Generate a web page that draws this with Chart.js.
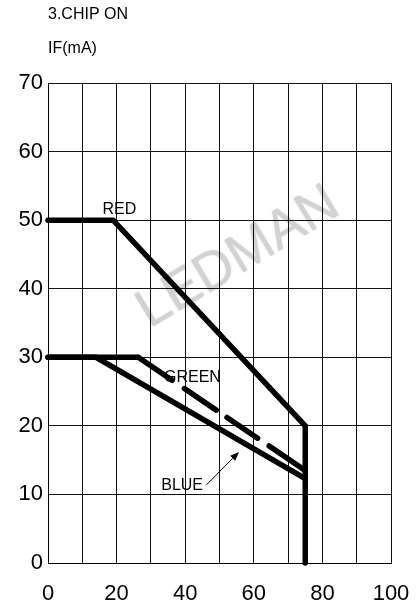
<!DOCTYPE html>
<html>
<head>
<meta charset="utf-8">
<script src="https://cdn.jsdelivr.net/npm/chart.js@4/dist/chart.umd.min.js"></script>
<style>
  html, body { margin: 0; padding: 0; background: #fff; }
  #wrap { width: 417px; height: 610px; }
</style>
</head>
<body>
<div id="wrap"><canvas id="c" width="417" height="610"></canvas></div>
<script>
// ---- data ----
const headerLine1 = "3.CHIP ON";
const headerLine2 = "IF(mA)";
const xTickLabels = [0, 20, 40, 60, 80, 100];
const yTickLabels = [0, 10, 20, 30, 40, 50, 60, 70];

const redX = [0, 19, 75, 75];
const redY = [50, 50, 20, 0];
const greenX = [0, 26.3, 75];
const greenY = [30, 30, 13.5];
const blueX = [0, 14, 75];
const blueY = [30, 30, 12.3];

// curve labels (data coordinates of label centres)
const labelNames = ["RED", "GREEN", "BLUE"];
const labelX = [20.8, 42.1, 39.1];
const labelY = [51.6, 27.0, 11.3];
// arrow from BLUE label to the blue curve
const arrowFrom = [46.2, 11.4];
const arrowTo = [55.7, 16.2];
const watermarkText = "LEDMAN";
const watermarkPos = [55.5, 44.5];

const FONT = '"Liberation Sans", Arial, Helvetica, sans-serif';

function pts(xs, ys) { return xs.map((x, i) => ({ x: x, y: ys[i] })); }

const overlay = {
  id: 'overlay',
  beforeDraw(chart) {
    const ctx = chart.ctx, xs = chart.scales.x, ys = chart.scales.y;
    ctx.save();
    ctx.translate(xs.getPixelForValue(watermarkPos[0]), ys.getPixelForValue(watermarkPos[1]));
    ctx.rotate(-31 * Math.PI / 180);
    ctx.font = '54px ' + FONT;
    ctx.fillStyle = '#d2d2d2';
    ctx.shadowColor = 'rgba(200,200,200,0.8)';
    ctx.shadowBlur = 2;
    ctx.textAlign = 'center';
    ctx.textBaseline = 'middle';
    ctx.fillText(watermarkText, 0, 0);
    ctx.restore();
  },
  beforeDatasetsDraw(chart) {
    const ctx = chart.ctx, xs = chart.scales.x, ys = chart.scales.y;
    ctx.save();
    ctx.font = '16px ' + FONT;
    ctx.fillStyle = '#000';
    ctx.textAlign = 'center';
    ctx.textBaseline = 'middle';
    labelNames.forEach((t, i) => {
      ctx.fillText(t, xs.getPixelForValue(labelX[i]), ys.getPixelForValue(labelY[i]));
    });
    // arrow
    const x0 = xs.getPixelForValue(arrowFrom[0]), y0 = ys.getPixelForValue(arrowFrom[1]);
    const x1 = xs.getPixelForValue(arrowTo[0]), y1 = ys.getPixelForValue(arrowTo[1]);
    const ang = Math.atan2(y1 - y0, x1 - x0);
    const hl = 9, hw = 3.5;
    ctx.strokeStyle = '#000';
    ctx.lineWidth = 1;
    ctx.beginPath();
    ctx.moveTo(x0, y0);
    ctx.lineTo(x1 - Math.cos(ang) * hl, y1 - Math.sin(ang) * hl);
    ctx.stroke();
    ctx.beginPath();
    ctx.moveTo(x1, y1);
    ctx.lineTo(x1 - Math.cos(ang) * hl - Math.sin(ang) * hw, y1 - Math.sin(ang) * hl + Math.cos(ang) * hw);
    ctx.lineTo(x1 - Math.cos(ang) * hl + Math.sin(ang) * hw, y1 - Math.sin(ang) * hl - Math.cos(ang) * hw);
    ctx.closePath();
    ctx.fill();
    // header
    ctx.textAlign = 'left';
    ctx.fillText(headerLine1, chart.chartArea.left, 14.5);
    ctx.fillText(headerLine2, chart.chartArea.left, 49);
    ctx.restore();
  }
};

const lineStyle = {
  borderColor: '#000',
  backgroundColor: '#000',
  borderWidth: 5.5,
  pointRadius: 0,
  pointHoverRadius: 0,
  fill: false,
  tension: 0,
  borderCapStyle: 'round',
  borderJoinStyle: 'miter',
  clip: false
};

const greenDash = [41, 14.8, 38.4, 13.1, 36.9, 14, 120];

new Chart(document.getElementById('c'), {
  type: 'line',
  data: {
    datasets: [
      Object.assign({ label: 'RED', data: pts(redX, redY) }, lineStyle),
      Object.assign({ label: 'GREEN', data: pts(greenX, greenY),
        segment: { borderDash: ctx => ctx.p0DataIndex >= 1 ? greenDash : [] } }, lineStyle),
      Object.assign({ label: 'BLUE', data: pts(blueX, blueY) }, lineStyle)
    ]
  },
  options: {
    responsive: false,
    animation: false,
    devicePixelRatio: 1,
    events: [],
    layout: { padding: { top: 83, right: 26, left: 0, bottom: 0 } },
    plugins: { legend: { display: false }, tooltip: { enabled: false }, title: { display: false } },
    scales: {
      x: {
        type: 'linear',
        min: 0, max: 100,
        afterFit: s => { s.height = 47; s.paddingLeft = 0; s.paddingRight = 0; },
        grid: { color: '#111', lineWidth: 1, drawTicks: false },
        border: { color: '#000', width: 1 },
        ticks: {
          stepSize: 10,
          autoSkip: false,
          maxRotation: 0,
          padding: 18,
          color: '#000',
          font: { family: FONT, size: 22 },
          callback: v => xTickLabels.includes(v) ? String(v) : ''
        }
      },
      y: {
        type: 'linear',
        min: 0, max: 70,
        afterFit: s => { s.width = 48; s.paddingTop = 0; s.paddingBottom = 0; },
        grid: { color: '#111', lineWidth: 1, drawTicks: false },
        border: { color: '#000', width: 1 },
        ticks: {
          stepSize: 10,
          autoSkip: false,
          padding: 5,
          color: '#000',
          font: { family: FONT, size: 22 },
          callback: v => yTickLabels.includes(v) ? String(v) : ''
        }
      }
    }
  },
  plugins: [overlay]
});
</script>
</body>
</html>
